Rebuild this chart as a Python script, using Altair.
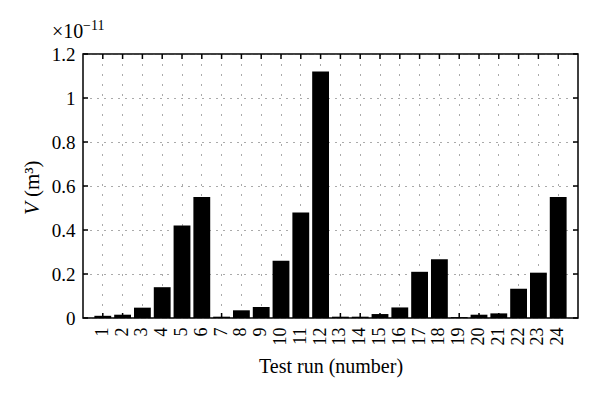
import altair as alt
import pandas as pd

runs = list(range(1, 25))
volumes = [0.010, 0.015, 0.047, 0.140, 0.420, 0.550, 0.006, 0.035, 0.050, 0.260,
           0.480, 1.120, 0.006, 0.006, 0.018, 0.048, 0.210, 0.267, 0.004, 0.015,
           0.021, 0.133, 0.206, 0.550]
y_ticks = [0, 0.2, 0.4, 0.6, 0.8, 1.0, 1.2]

FONT = "Liberation Serif"
W, H = 495, 264

df = pd.DataFrame({"run": runs, "v": volumes})
ticks_df = pd.DataFrame({"v": y_ticks})

x_enc = alt.X(
    "run:O",
    scale=alt.Scale(paddingInner=0.15, paddingOuter=0.575),
    axis=alt.Axis(
        labelAngle=270, ticks=False, grid=True, gridDash=[1, 9], gridColor="#555",
        gridWidth=1, bandPosition=0.5, labelPadding=9, title="Test run (number)",
        titlePadding=11, domain=False, labelFontSize=18, titleFontSize=20,
        labelFont=FONT, titleFont=FONT, labelColor="black", titleColor="black",
        titleFontWeight="normal",
    ),
)
y_enc = alt.Y(
    "v:Q",
    scale=alt.Scale(domain=[0, 1.2], nice=False),
    axis=alt.Axis(
        values=y_ticks, format="~g", grid=True, gridDash=[1, 6], gridColor="#555",
        gridWidth=1, ticks=False, labelPadding=8, title=None, domain=False,
        labelFontSize=19, labelFont=FONT, labelColor="black",
    ),
)

bars = alt.Chart(df).mark_bar(color="black").encode(x=x_enc, y=y_enc)

top_ticks = alt.Chart(df).mark_rule(color="black", strokeWidth=1.5).encode(
    x=x_enc, y=alt.value(0), y2=alt.value(5))
bot_ticks = alt.Chart(df).mark_rule(color="black", strokeWidth=1.5).encode(
    x=x_enc, y=alt.value(H), y2=alt.value(H - 5))
left_ticks = alt.Chart(ticks_df).mark_rule(color="black", strokeWidth=1.5).encode(
    y=y_enc, x=alt.value(0), x2=alt.value(5))
right_ticks = alt.Chart(ticks_df).mark_rule(color="black", strokeWidth=1.5).encode(
    y=y_enc, x=alt.value(W), x2=alt.value(W - 5))

one = pd.DataFrame({"k": [0]})
v_label = alt.Chart(one).mark_text(
    text="V", font=FONT, fontSize=21, fontStyle="italic", angle=270,
    align="left", baseline="middle", color="black").encode(
    x=alt.value(-50), y=alt.value(161))
unit_label = alt.Chart(one).mark_text(
    text="(m³)", font=FONT, fontSize=21, angle=270,
    align="left", baseline="middle", color="black").encode(
    x=alt.value(-50), y=alt.value(143))
exp_base = alt.Chart(one).mark_text(
    text="×10", font=FONT, fontSize=20, align="left", baseline="alphabetic",
    color="black").encode(x=alt.value(-31), y=alt.value(-16))
exp_pow = alt.Chart(one).mark_text(
    text="−11", font=FONT, fontSize=14, align="left", baseline="alphabetic",
    color="black").encode(x=alt.value(0), y=alt.value(-24))

chart = alt.layer(
    bars, top_ticks, bot_ticks, left_ticks, right_ticks,
    v_label, unit_label, exp_base, exp_pow,
).properties(
    width=W, height=H,
    autosize=alt.AutoSizeParams(type="none"),
    padding={"left": 83, "top": 54, "right": 22, "bottom": 80},
    background="white",
).configure_view(stroke="black", strokeWidth=1.5)

chart.save("out.html", embed_options={"renderer": "svg", "actions": False})
